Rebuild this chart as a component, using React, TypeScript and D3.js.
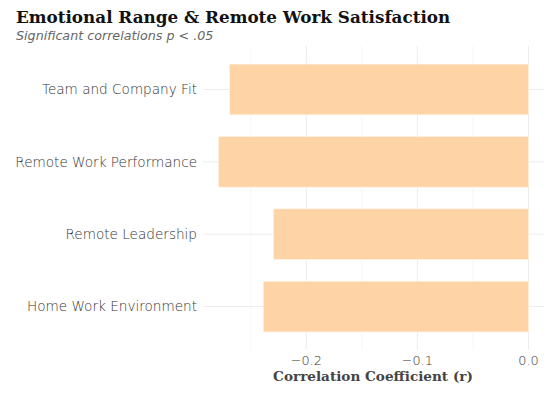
import React from "react";
import * as d3 from "d3";

const categories = ["Team and Company Fit", "Remote Work Performance", "Remote Leadership", "Home Work Environment"];
const values = [-0.269, -0.279, -0.2295, -0.2387];
const xTicks = [-0.2, -0.1, 0.0];
const xMinor = [-0.25, -0.15, -0.05];

const W = 553, H = 395;
const panel = { left: 203, right: 544, top: 46, bottom: 350 };

export default function App() {
  const lo = d3.min(values)!;
  const span = 0 - lo;
  const x = d3.scaleLinear().domain([lo - span * 0.05, 0 + span * 0.05]).range([panel.left, panel.right]);
  const unit = (panel.bottom - panel.top) / (categories.length - 1 + 1.2);
  const yc = (i: number) => panel.top + unit * (0.6 + i);
  const bh = unit * 0.7;
  const labelFont = "'DejaVu Sans', sans-serif";
  const serif = "'DejaVu Serif', serif";
  const grid = "#ececec";
  return (
    <svg width={W} height={H} style={{ position: "absolute", left: 0, top: 0, background: "#fff" }}>
      {xMinor.map((t) => (
        <line key={"m" + t} x1={x(t)} x2={x(t)} y1={panel.top} y2={panel.bottom} stroke="#f4f4f4" strokeWidth={0.8} />
      ))}
      {xTicks.map((t) => (
        <line key={"g" + t} x1={x(t)} x2={x(t)} y1={panel.top} y2={panel.bottom} stroke={grid} strokeWidth={1} />
      ))}
      {categories.map((c, i) => (
        <line key={"h" + c} x1={panel.left} x2={panel.right} y1={yc(i)} y2={yc(i)} stroke={grid} strokeWidth={1} />
      ))}
      {categories.map((c, i) => (
        <rect key={"b" + c} x={x(values[i])} y={yc(i) - bh / 2} width={x(0) - x(values[i])} height={bh} fill="#fed3a6" stroke="#fff3e6" strokeWidth={0.6} />
      ))}
      {categories.map((c, i) => (
        <text key={"l" + c} x={197} y={yc(i)} dy="0.35em" textAnchor="end" fontFamily={labelFont} fontWeight={200} fontSize={13.6} fill="#333">
          {c}
        </text>
      ))}
      {xTicks.map((t) => (
        <text key={"t" + t} x={x(t)} y={365} textAnchor="middle" fontFamily={labelFont} fontWeight={200} fontSize={12.8} fill="#333">
          {d3.format(".1f")(t).replace("-", "\u2212")}
        </text>
      ))}
      <text x={373} y={381} textAnchor="middle" fontFamily={serif} fontWeight={700} fontSize={13.6} fill="#444">
        Correlation Coefficient (r)
      </text>
      <text x={16} y={23} fontFamily={serif} fontWeight={700} fontSize={16.8} fill="#111">
        Emotional Range &amp; Remote Work Satisfaction
      </text>
      <text x={16} y={39.5} fontFamily={labelFont} fontStyle="italic" fontWeight={200} fontSize={12.7} fill="#666">
        Significant correlations p &lt; .05
      </text>
    </svg>
  );
}
